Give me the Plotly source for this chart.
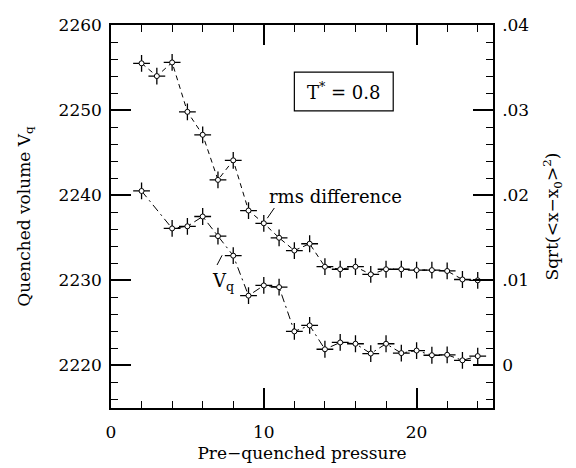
import plotly.graph_objects as go

# Data
rms_x = [2, 3, 4, 5, 6, 7, 8, 9, 10, 11, 12, 13, 14, 15, 16, 17, 18, 19, 20, 21, 22, 23, 24]
rms_y = [0.0355, 0.0340, 0.0356, 0.0298, 0.0271, 0.0218, 0.0241, 0.0182, 0.0167, 0.0150,
         0.0135, 0.0143, 0.0116, 0.0113, 0.0116, 0.0107, 0.0113, 0.0113, 0.0112, 0.0112,
         0.0111, 0.0101, 0.0100]

vq_x = [2, 4, 5, 6, 7, 8, 9, 10, 11, 12, 13, 14, 15, 16, 17, 18, 19, 20, 21, 22, 23, 24]
vq_y = [2240.5, 2236.1, 2236.35, 2237.5, 2235.2, 2232.9, 2228.2, 2229.4, 2229.2, 2224.0,
        2224.7, 2221.9, 2222.7, 2222.55, 2221.4, 2222.55, 2221.45, 2221.75, 2221.2, 2221.25,
        2220.6, 2221.1]

x_range = [0, 25]
y_range = [2215, 2260]
y2_range = [-0.005, 0.04]
y_ticks = [2220, 2230, 2240, 2250, 2260]
y2_ticks = [0, 0.01, 0.02, 0.03, 0.04]
y2_ticklabels = ["0", ".01", ".02", ".03", ".04"]
x_ticks = [0, 10, 20]

FONT = "DejaVu Serif"
cross = dict(symbol="cross-thin-open", size=12, color="black", line=dict(width=1.3, color="black"))
dot = dict(symbol="circle", size=5, color="white", line=dict(width=1, color="black"))

fig = go.Figure()
fig.add_trace(go.Scatter(x=rms_x, y=rms_y, yaxis="y2", mode="lines+markers",
                         line=dict(color="black", width=1, dash="5px,4px"),
                         marker=cross, showlegend=False))
fig.add_trace(go.Scatter(x=rms_x, y=rms_y, yaxis="y2", mode="markers",
                         marker=dot, showlegend=False))
fig.add_trace(go.Scatter(x=vq_x, y=vq_y, mode="lines+markers",
                         line=dict(color="black", width=1, dash="8px,4px,2px,4px"),
                         marker=cross, showlegend=False))
fig.add_trace(go.Scatter(x=vq_x, y=vq_y, mode="markers",
                         marker=dot, showlegend=False))

axis_common = dict(showgrid=False, zeroline=False, showline=True, linecolor="black", linewidth=1.5,
                   ticks="inside", ticklen=20, tickwidth=1.5, tickcolor="black", automargin=False,
                   tickfont=dict(family=FONT, size=17, color="black"))

fig.update_layout(
    width=576, height=468,
    margin=dict(l=103, r=91, t=17, b=68),
    paper_bgcolor="white", plot_bgcolor="white",
    font=dict(family=FONT, size=17, color="black"),
    xaxis=dict(range=x_range, tickvals=x_ticks, mirror="ticks", ticklabelstandoff=8,
               minor=dict(ticks="inside", ticklen=7, dtick=2, tickwidth=1.2, tickcolor="black"),
               title=dict(text="Pre\u2212quenched pressure", standoff=6, font=dict(family=FONT, size=17)),
               **axis_common),
    yaxis=dict(range=y_range, tickvals=y_ticks, ticklabelstandoff=4,
               minor=dict(ticks="inside", ticklen=7, dtick=2, tickwidth=1.2, tickcolor="black"),
               title=dict(text="Quenched volume V<sub>q</sub>", standoff=24, font=dict(family=FONT, size=17)),
               **axis_common),
    yaxis2=dict(range=y2_range, tickvals=y2_ticks, ticktext=y2_ticklabels, overlaying="y", side="right",
                ticklabelstandoff=4,
                minor=dict(ticks="inside", ticklen=7, dtick=0.002, tickwidth=1.2, tickcolor="black"),
                title=dict(text="Sqrt(&lt;x\u2212x<sub>0</sub>&gt;<sup>2</sup>)", standoff=18,
                           font=dict(family=FONT, size=17)),
                **axis_common),
    showlegend=False,
)

# T* box
fig.add_shape(type="rect", xref="x", yref="y", x0=12.0, x1=18.47, y0=2249.9, y1=2254.47,
              line=dict(color="black", width=1.2), fillcolor="rgba(0,0,0,0)")
fig.add_annotation(x=15.24, y=2252.2, xref="x", yref="y", text="T<sup>*</sup> = 0.8",
                   showarrow=False, font=dict(family=FONT, size=18))

# Labels with leader lines
fig.add_annotation(x=14.68, y=2239.9, xref="x", yref="y", text="rms difference",
                   showarrow=False, font=dict(family=FONT, size=18))
fig.add_shape(type="line", xref="x", yref="y", x0=10.23, y0=2237.3, x1=10.69, y1=2238.5,
              line=dict(color="black", width=1))
fig.add_annotation(x=7.3, y=2229.8, xref="x", yref="y", text="V<sub>q</sub>",
                   showarrow=False, font=dict(family=FONT, size=18))
fig.add_shape(type="line", xref="x", yref="y", x0=6.94, y0=2231.8, x1=7.27, y1=2232.94,
              line=dict(color="black", width=1))

fig.write_html("out.html")
